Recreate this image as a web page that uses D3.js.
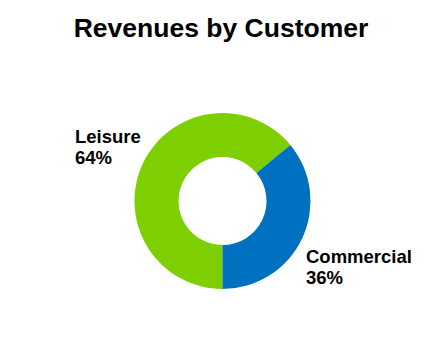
<!DOCTYPE html>
<meta charset="utf-8">
<head>
<style>
body { margin: 0; background: #fff; }
text { font-family: "Liberation Sans", Arial, sans-serif; font-weight: bold; fill: #000; }
</style>
</head>
<body>
<svg width="444" height="340"></svg>
<script src="https://d3js.org/d3.v7.min.js"></script>
<script>

var categories = ["Leisure", "Commercial"];
var shares = [64, 36];
var colors = ["#7dcf02", "#0070c0"];

var svg = d3.select("svg"),
    width = +svg.attr("width"),
    height = +svg.attr("height");

var cx = 222.5, cy = 201,
    outerR = 88, innerR = 44;

svg.append("text")
    .attr("x", 221)
    .attr("y", 37)
    .attr("text-anchor", "middle")
    .style("font-size", "26.5px")
    .text("Revenues by Customer");

var data = categories.map(function(c, i) { return {name: c, value: shares[i], color: colors[i]}; });

// start at the bottom, go clockwise
var pie = d3.pie()
    .sort(null)
    .value(function(d) { return d.value; })
    .startAngle(Math.PI)
    .endAngle(3 * Math.PI);

var arc = d3.arc().innerRadius(innerR).outerRadius(outerR);

var g = svg.append("g").attr("transform", "translate(" + cx + "," + cy + ")");

g.selectAll("path")
  .data(pie(data))
  .enter().append("path")
    .attr("d", arc)
    .attr("fill", function(d) { return d.data.color; });

// labels
var labelPos = {
  Leisure: {x: 75, y: 143},
  Commercial: {x: 306, y: 263}
};

var labels = svg.selectAll(".lbl")
  .data(data)
  .enter().append("text")
    .attr("class", "lbl")
    .attr("x", function(d) { return labelPos[d.name].x; })
    .attr("y", function(d) { return labelPos[d.name].y; })
    .style("font-size", "18.5px");

labels.append("tspan").text(function(d) { return d.name; });
labels.append("tspan")
    .attr("x", function(d) { return labelPos[d.name].x; })
    .attr("dy", 21)
    .text(function(d) { return d.value + "%"; });

</script>
</body>
